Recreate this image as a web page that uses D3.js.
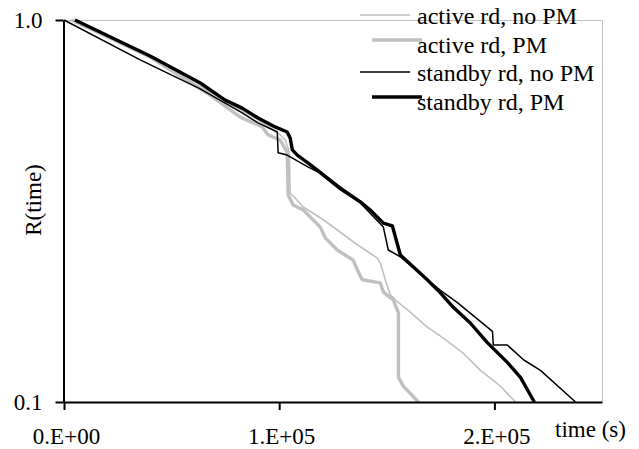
<!DOCTYPE html>
<html>
<head>
<meta charset="utf-8">
<script src="https://cdn.jsdelivr.net/npm/d3@7"></script>
<style>
  body { margin: 0; background: #fff; }
  svg { display: block; font-family: "Liberation Serif", "Times New Roman", serif; }
</style>
</head>
<body>
<div id="chart"></div>
<script>
// series names, in legend order
const seriesNames = ["active rd, no PM", "active rd, PM", "standby rd, no PM", "standby rd, PM"];

// time (s) and reliability R(time)
const timeActiveNoPM = [2800, 40000, 74900, 90200, 99100, 102800, 104700, 105100, 107400, 111200, 120500, 127000, 136300, 145600, 147000, 149300, 151600, 154900, 160900, 168800, 176300, 185600, 193500, 202800, 209800];
const relActiveNoPM = [1.0, 0.797, 0.614, 0.547, 0.509, 0.485, 0.451, 0.352, 0.342, 0.324, 0.300, 0.282, 0.258, 0.238, 0.231, 0.209, 0.191, 0.183, 0.172, 0.157, 0.147, 0.134, 0.121, 0.110, 0.100];

const timeActivePM = [3700, 40000, 67900, 81900, 92100, 94900, 100500, 103700, 104200, 106500, 111200, 119100, 121400, 127000, 134400, 136300, 138600, 147000, 148400, 153000, 155400, 155400, 157700, 164700];
const relActivePM = [1.0, 0.800, 0.636, 0.557, 0.525, 0.500, 0.485, 0.451, 0.348, 0.328, 0.318, 0.287, 0.269, 0.250, 0.235, 0.222, 0.209, 0.205, 0.194, 0.185, 0.171, 0.116, 0.110, 0.100];

const timeStandbyNoPM = [0, 35400, 63300, 74900, 82800, 90200, 99100, 99500, 103700, 113500, 118100, 128400, 137700, 148400, 150700, 156300, 168800, 174900, 182800, 199100, 199500, 206000, 213500, 221400, 237700];
const relStandbyNoPM = [1.0, 0.786, 0.660, 0.606, 0.571, 0.538, 0.509, 0.449, 0.443, 0.412, 0.400, 0.359, 0.332, 0.287, 0.250, 0.240, 0.209, 0.196, 0.182, 0.153, 0.141, 0.141, 0.129, 0.121, 0.100];

const timeStandbyPM = [5100, 40000, 63300, 74900, 82800, 90200, 98100, 103700, 105100, 106100, 108400, 113500, 128400, 137700, 142300, 148400, 152600, 156300, 168800, 174900, 180900, 188800, 196700, 206000, 212100, 217700, 218600];
const relStandbyPM = [1.0, 0.805, 0.684, 0.617, 0.588, 0.554, 0.525, 0.509, 0.491, 0.457, 0.443, 0.422, 0.363, 0.334, 0.318, 0.294, 0.289, 0.2425, 0.209, 0.193, 0.177, 0.161, 0.143, 0.127, 0.116, 0.102, 0.100];

// axis ticks
const xTicks = [0, 100000, 200000];
const xTickLabels = ["0.E+00", "1.E+05", "2.E+05"];
const yTicks = [0.1, 1.0];
const yTickLabels = ["0.1", "1.0"];

// line styles for each series (same order as seriesNames)
const styles = [
	{ color: "#c0c0c0", width: 1.6 },
	{ color: "#c0c0c0", width: 3.4 },
	{ color: "#000000", width: 1.5 },
	{ color: "#000000", width: 3.4 },
];

const series = [
	[timeActiveNoPM, relActiveNoPM],
	[timeActivePM, relActivePM],
	[timeStandbyNoPM, relStandbyNoPM],
	[timeStandbyPM, relStandbyPM],
].map(([t, r], i) => ({
	name: seriesNames[i],
	points: t.map((d, j) => [d, r[j]]),
	style: styles[i],
}));

const width = 639;
const height = 449;
const plotLeft = 64, plotRight = 602, plotTop = 20, plotBottom = 402;
const fontSize = 23;

const svg = d3
	.select("#chart")
	.append("svg")
	.attr("width", width)
	.attr("height", height)
	.style("background", "#fff");

const x = d3.scaleLinear().domain([0, 250000]).range([plotLeft, plotRight]);
const y = d3.scaleLog().domain([0.1, 1]).range([plotBottom, plotTop]);

// plot area border (top and right only, light gray)
svg.append("path")
	.attr("d", `M${plotLeft},${plotTop + 0.5}H${plotRight + 0.5}V${plotBottom}`)
	.attr("fill", "none")
	.attr("stroke", "#c0c0c0")
	.attr("stroke-width", 1);

// curves
const line = d3
	.line()
	.x((d) => x(d[0]))
	.y((d) => y(d[1]));

svg.selectAll(".curve")
	.data(series)
	.enter()
	.append("path")
	.attr("class", "curve")
	.attr("d", (d) => line(d.points))
	.attr("fill", "none")
	.attr("stroke", (d) => d.style.color)
	.attr("stroke-width", (d) => d.style.width)
	.attr("stroke-linejoin", "round");

// x axis
const xAxis = d3
	.axisBottom(x)
	.tickValues(xTicks)
	.tickFormat((d, i) => xTickLabels[i])
	.tickSizeInner(8)
	.tickSizeOuter(0)
	.tickPadding(18);

const gx = svg.append("g").attr("transform", `translate(0,${plotBottom})`).call(xAxis);

// y axis
const yAxis = d3
	.axisLeft(y)
	.tickValues(yTicks)
	.tickFormat((d, i) => yTickLabels[i])
	.tickSizeInner(8)
	.tickSizeOuter(0)
	.tickPadding(13);

const gy = svg.append("g").attr("transform", `translate(${plotLeft - 0.5},0)`).call(yAxis);

[gx, gy].forEach((g) => {
	g.selectAll(".domain, .tick line").attr("stroke", "#000").attr("stroke-width", 2);
	g.selectAll("text")
		.attr("fill", "#000")
		.style("font-family", '"Liberation Serif", serif')
		.style("font-size", fontSize + "px");
});
gx.selectAll("text").attr("dx", "2");

// axis titles
svg.append("text")
	.attr("transform", "translate(41,200) rotate(-90)")
	.attr("text-anchor", "middle")
	.style("font-size", fontSize + "px")
	.text("R(time)");

svg.append("text")
	.attr("x", 555)
	.attr("y", 437)
	.style("font-size", fontSize + "px")
	.text("time (s)");

// legend
const legend = svg.append("g");
const rowGap = 28.5;

const rows = legend
	.selectAll(".row")
	.data(series)
	.enter()
	.append("g")
	.attr("class", "row")
	.attr("transform", (d, i) => `translate(0,${24 + i * rowGap})`);

rows.append("line")
	.attr("x1", (d, i) => 360 + (i % 2) * 12)
	.attr("x2", (d, i) => 410 + (i % 2) * 12)
	.attr("y1", (d, i) => -9 - (i % 2) * 3.5)
	.attr("y2", (d, i) => -9 - (i % 2) * 3.5)
	.attr("stroke", (d) => d.style.color)
	.attr("stroke-width", (d) => d.style.width);

rows.append("text")
	.attr("x", 417)
	.attr("y", 0)
	.style("font-size", "24px")
	.text((d) => d.name);
</script>
</body>
</html>
